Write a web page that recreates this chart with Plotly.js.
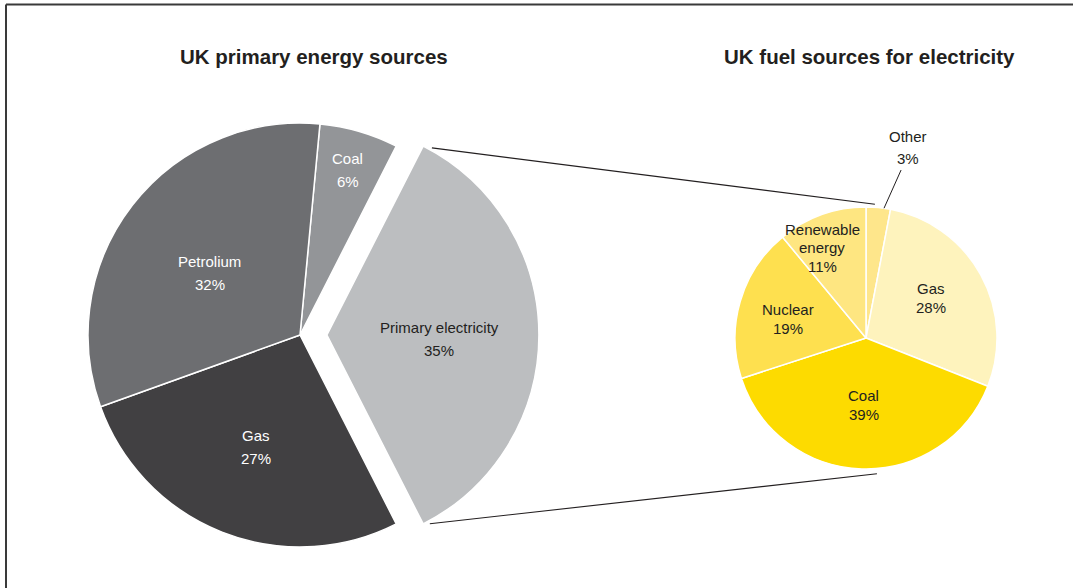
<!DOCTYPE html>
<html><head><meta charset="utf-8">
<script src="https://cdn.plot.ly/plotly-3.0.1.min.js"></script>
<style>html,body{margin:0;padding:0;background:#fff;} #chart{width:1073px;height:588px;}</style>
</head><body><div id="chart"></div>
<script>
// ---------- data ----------
const primaryLabels = ['Coal', 'Primary electricity', 'Gas', 'Petrolium'];
const primaryValues = [6, 35, 27, 32];
const electricityLabels = ['Other', 'Gas', 'Coal', 'Nuclear', 'Renewable energy'];
const electricityValues = [3, 28, 39, 19, 11];
const chartTitles = ['UK primary energy sources', 'UK fuel sources for electricity'];

// ---------- styles ----------
const W = 1073, H = 588;
const FONT = 'Liberation Sans, Arial, Helvetica, sans-serif';
const DARK = '#231f20';
const primaryColors = ['#939598', '#bcbec0', '#414042', '#6d6e71'];
const electricityColors = ['#fee68b', '#fef3bd', '#fddb00', '#fee04f', '#fee681'];
const primaryTextColors = ['#ffffff', DARK, '#ffffff', '#ffffff'];
const leftGeo = {cx: 300, cy: 335, r: 212, rotation: 5.4};
const rightGeo = {cx: 866, cy: 338, r: 131, rotation: 0};
const primaryPull = [0, 0.127, 0, 0];
// [radius fraction, angle offset (deg)] for each slice label
const primaryLabelPos = [[0.81, 0], [0.53, 1.8], [0.57, 0], [0.516, -3.2]];
const electricityLabelPos = [[1.49, 7], [0.582, -2.8], [0.51, 0], [0.613, -2.5], [0.765, -6]];
const wrapLabel = {'Renewable energy': ['Renewable', 'energy']};

// ---------- helpers ----------
function slices(values, rot) {
  const tot = values.reduce((a, b) => a + b, 0);
  let a = rot;
  return values.map(v => { const s = a; a += v / tot * 360; return {start: s, end: a, mid: (s + a) / 2}; });
}
function pt(cx, cy, r, deg) {
  const t = deg * Math.PI / 180;
  return [cx + r * Math.sin(t), cy - r * Math.cos(t)];
}
function domainFor(g, pullMax) {
  const half = g.r * (1 + pullMax);
  return {x: [(g.cx - half) / W, (g.cx + half) / W], y: [1 - (g.cy + half) / H, 1 - (g.cy - half) / H]};
}
const px2x = x => x / W, px2y = y => 1 - y / H;

const annotations = [];
const shapes = [];
function addLabel(lines, p, color, spacing) {
  const n = lines.length;
  lines.forEach((ln, i) => {
    annotations.push({
      text: ln, x: px2x(p[0]), y: px2y(p[1]), xref: 'paper', yref: 'paper',
      xanchor: 'center', yanchor: 'middle', showarrow: false,
      yshift: -(i - (n - 1) / 2) * spacing,
      font: {family: FONT, size: 15, color: color}
    });
  });
}

// left pie labels
const lS = slices(primaryValues, leftGeo.rotation);
lS.forEach((s, i) => {
  const pc = pt(leftGeo.cx, leftGeo.cy, primaryPull[i] * leftGeo.r, s.mid);
  const [f, da] = primaryLabelPos[i];
  const p = pt(pc[0], pc[1], f * leftGeo.r, s.mid + da);
  addLabel([primaryLabels[i], primaryValues[i] + '%'], p, primaryTextColors[i], 23);
});

// right pie labels
const rS = slices(electricityValues, rightGeo.rotation);
rS.forEach((s, i) => {
  const [f, da] = electricityLabelPos[i];
  const p = pt(rightGeo.cx, rightGeo.cy, f * rightGeo.r, s.mid + da);
  const lines = (wrapLabel[electricityLabels[i]] || [electricityLabels[i]]).concat([electricityValues[i] + '%']);
  addLabel(lines, p, DARK, f > 1 ? 22 : 18.5);
});

// leader line for the small outside label ("Other")
{
  const a = pt(rightGeo.cx, rightGeo.cy, rightGeo.r * 1.0, rS[0].mid + 2.5);
  const b = pt(rightGeo.cx, rightGeo.cy, rightGeo.r * 1.31, rS[0].mid + 6.4);
  shapes.push({type: 'line', xref: 'paper', yref: 'paper', x0: px2x(a[0]), y0: px2y(a[1]), x1: px2x(b[0]), y1: px2y(b[1]), line: {color: DARK, width: 1}});
}

// connector lines from the pulled-out slice to the second pie
{
  const pe = lS[1];
  const pc = pt(leftGeo.cx, leftGeo.cy, primaryPull[1] * leftGeo.r, pe.mid);
  const t0 = pt(pc[0], pc[1], leftGeo.r * 1.012, pe.start + 2.3);
  const b0 = pt(pc[0], pc[1], leftGeo.r * 1.014, pe.end - 1.6);
  const t1 = pt(rightGeo.cx, rightGeo.cy, rightGeo.r * 1.023, 3.8);
  const b1 = pt(rightGeo.cx, rightGeo.cy, rightGeo.r * 1.04, 175.4);
  [[t0, t1], [b0, b1]].forEach(([a, b]) => shapes.push({
    type: 'line', xref: 'paper', yref: 'paper', x0: px2x(a[0]), y0: px2y(a[1]), x1: px2x(b[0]), y1: px2y(b[1]),
    line: {color: DARK, width: 1.1}
  }));
}

// frame (top and left rules)
shapes.push({type: 'line', xref: 'paper', yref: 'paper', x0: px2x(6), y0: px2y(4.5), x1: 1, y1: px2y(4.5), line: {color: '#3a3a3a', width: 2}});
shapes.push({type: 'line', xref: 'paper', yref: 'paper', x0: px2x(6), y0: px2y(4.5), x1: px2x(6), y1: 0, line: {color: '#3a3a3a', width: 2}});

// titles
[[chartTitles[0], 313.5], [chartTitles[1], 869.5]].forEach(([t, x]) => annotations.push({
  text: t, x: px2x(x), y: px2y(57), xref: 'paper', yref: 'paper', xanchor: 'center', yanchor: 'middle',
  showarrow: false, font: {family: FONT, size: 20.5, color: DARK, weight: 700}
}));

const traces = [
  {
    type: 'pie', labels: primaryLabels, values: primaryValues, sort: false, direction: 'clockwise',
    rotation: leftGeo.rotation, pull: primaryPull, textinfo: 'none', hoverinfo: 'label+percent',
    marker: {colors: primaryColors, line: {color: '#ffffff', width: 1.5}},
    domain: domainFor(leftGeo, Math.max(...primaryPull))
  },
  {
    type: 'pie', labels: electricityLabels, values: electricityValues, sort: false, direction: 'clockwise',
    rotation: rightGeo.rotation, textinfo: 'none', hoverinfo: 'label+percent',
    marker: {colors: electricityColors, line: {color: '#ffffff', width: 1.5}},
    domain: domainFor(rightGeo, 0)
  }
];

Plotly.newPlot('chart', traces, {
  width: W, height: H, margin: {l: 0, r: 0, t: 0, b: 0},
  paper_bgcolor: '#ffffff', showlegend: false,
  font: {family: FONT, color: DARK},
  annotations: annotations, shapes: shapes
}, {displayModeBar: false, staticPlot: true});
</script>
</body></html>
